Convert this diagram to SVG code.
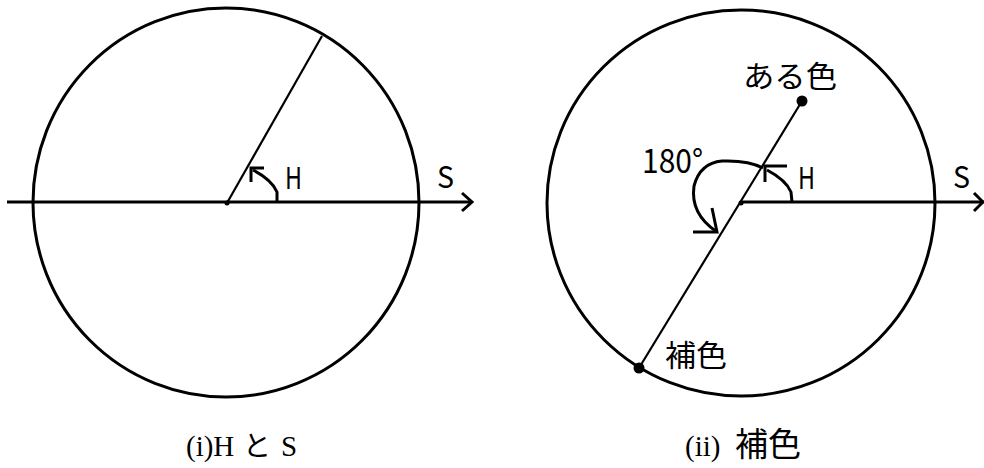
<svg xmlns="http://www.w3.org/2000/svg" width="984" height="468" viewBox="0 0 984 468">
<style>
.ln{stroke:#000;fill:none;stroke-linecap:butt;stroke-linejoin:miter}
.c{stroke-width:3}
.ax{stroke-width:3}
.rd{stroke-width:2.2}
.arc{stroke-width:3}
.lbl{font-family:"Noto Sans CJK JP","Liberation Sans",sans-serif;fill:#000}
.hs{font-size:30px}
.cap{font-family:"Liberation Serif","Noto Sans CJK JP",serif;font-size:29px;fill:#000}
.capj{font-family:"Noto Sans CJK JP",sans-serif;fill:#000}
</style>
<rect width="984" height="468" fill="#fff"/>
<g id="left-diagram">
  <g id="left-circle"><ellipse class="ln c" cx="226" cy="202.5" rx="193" ry="194.5"/></g>
  <g id="left-connectors">
    <line class="ln ax" x1="7" y1="202" x2="472" y2="202"/>
    <polyline class="ln ax" points="462,193 472,202 462,211"/>
    <line class="ln rd" x1="227" y1="203" x2="322" y2="36"/>
    <circle cx="227" cy="203" r="2.5" fill="#000"/>
    <path class="ln arc" d="M253 170 Q272 180 277 192 L277 202"/>
    <polyline class="ln arc" points="264,168 251,168 251,182"/>
  </g>
  <g id="left-labels">
    <text class="lbl hs" x="285" y="189" textLength="17" lengthAdjust="spacingAndGlyphs">H</text>
    <text class="lbl hs" x="437" y="188" textLength="17" lengthAdjust="spacingAndGlyphs">S</text>
  </g>
</g>
<g id="right-diagram">
  <g id="right-circle"><ellipse class="ln c" cx="741" cy="203" rx="194" ry="193"/></g>
  <g id="right-connectors">
    <line class="ln ax" x1="741" y1="202" x2="984" y2="202"/>
    <polyline class="ln ax" points="974,193 983,202 974,211"/>
    <line class="ln rd" x1="802" y1="101" x2="639" y2="368"/>
    <circle cx="802" cy="101" r="5.5" fill="#000"/>
    <circle cx="639" cy="368" r="5.5" fill="#000"/>
    <circle cx="741" cy="203" r="2.5" fill="#000"/>
    <path class="ln arc" d="M767 170 Q786 180 791 192 L792 202"/>
    <polyline class="ln arc" points="787,166 765,166 765,182"/>
    <path class="ln arc" d="M763 168 Q748 160 722 161 Q700 163 694 186 Q690 214 717 232"/>
    <polyline class="ln arc" points="693,232 717,232 712,208"/>
  </g>
  <g id="right-labels">
    <text class="lbl hs" x="798" y="189" textLength="17" lengthAdjust="spacingAndGlyphs">H</text>
    <text class="lbl hs" x="953" y="188" textLength="17" lengthAdjust="spacingAndGlyphs">S</text>
    <text class="lbl" x="642" y="173" font-size="33" textLength="61" lengthAdjust="spacingAndGlyphs">180°</text>
    <text class="lbl" x="743" y="87" font-size="30" textLength="94" lengthAdjust="spacingAndGlyphs">ある色</text>
    <text class="lbl" x="665" y="366" font-size="30" textLength="62" lengthAdjust="spacingAndGlyphs">補色</text>
  </g>
</g>
<g id="captions">
  <text class="cap" y="456"><tspan x="186">(i)H</tspan><tspan class="capj" x="243" font-size="28">と</tspan><tspan x="281">S</tspan></text>
  <text class="cap" y="456"><tspan x="685">(ii)</tspan><tspan class="capj" x="735" font-size="33">補色</tspan></text>
</g>
</svg>
